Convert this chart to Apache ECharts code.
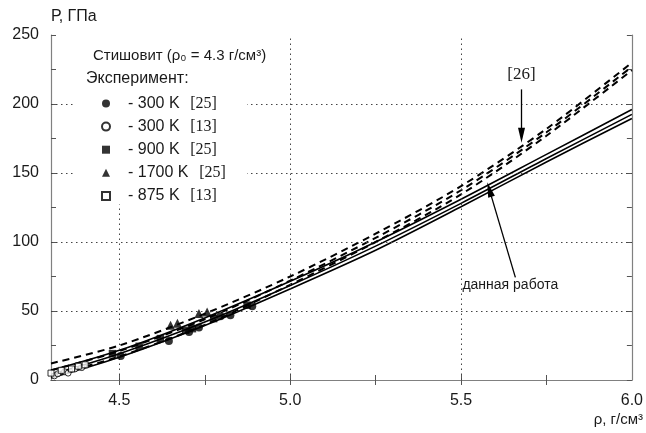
<!DOCTYPE html>
<html><head><meta charset="utf-8">
<script src="https://cdn.jsdelivr.net/npm/echarts@6/dist/echarts.min.js"></script>
<style>html,body{margin:0;padding:0;background:#fff}#c{width:646px;height:433px}</style>
</head><body><div id="c"></div>
<script>
// ---- axis values ----
const xLabelValues = [4.5, 5.0, 5.5, 6.0];
const xTickValues = [4.5, 4.75, 5.0, 5.25, 5.5, 5.75];
const xGridValues = [4.5, 5.0, 5.5];
const yGridValues = [50, 100, 150, 200];
const yLabelStep = 50;

// ---- curves: this work (solid) and ref [26] (dashed) ----
const densities = [4.3, 4.5, 4.75, 5.0, 5.25, 5.5, 5.75, 6.0];
const thisWorkA = [7, 21.5, 45, 71.5, 100, 131, 163.5, 196];
const thisWorkB = [4, 19, 42, 68.5, 97, 128, 160.5, 192.5];
const thisWorkC = [1.5, 16.5, 39.5, 66, 94, 125.5, 158, 189.5];
const ref26A = [12, 25, 48, 75, 106, 140.5, 182, 230];
const ref26B = [7, 21, 44, 72, 103, 137.5, 179.5, 227];
const ref26C = [3, 17, 40, 69, 100, 134.5, 177, 224.5];

// ---- experiment points ----
const exp300K25 = [[4.504,17.4],[4.645,28.2],[4.704,34.8],[4.733,38],[4.796,46.2],[4.825,46.9],[4.889,53.5]];
const exp300K13 = [[4.31,3],[4.32,4.5],[4.34,6],[4.35,5],[4.37,8],[4.39,9]];
const exp900K25 = [[4.48,19.1],[4.558,24.4],[4.62,30],[4.694,36],[4.714,37.2],[4.776,44.5],[4.874,54.2]];
const exp1700K25 = [[4.65,39.7],[4.67,41.2],[4.733,48.2],[4.757,49.2]];
const exp875K13 = [[4.30,5],[4.33,7],[4.36,8],[4.38,10],[4.40,11]];

const legendLabels = {
  exp300K25: ['- 300 K', '[25]'],
  exp300K13: ['- 300 K', '[13]'],
  exp900K25: ['- 900 K', '[25]'],
  exp1700K25: ['- 1700 K', '[25]'],
  exp875K13: ['- 875 K', '[13]']
};

// annotation anchors (data coordinates)
const ann26Text = [5.677, 221.5];
const ann26Arrow = [[5.677, 210.6], [5.677, 177.3]];
const annWorkText = [5.504, 68.6];
const annWorkArrow = [[5.659, 74.4], [5.583, 138]];

const SANS = '"Liberation Sans", Arial, sans-serif';
const SERIF = '"Liberation Serif", "Times New Roman", serif';
const TXT = '#1a1a1a';

function curve(name, vals, dashed) {
  return {
    type: 'line', name, data: densities.map((d, i) => [d, vals[i]]),
    smooth: 0.3, symbol: 'none', silent: true, animation: false, z: 2,
    lineStyle: { color: '#000', width: dashed ? 2 : 1.6, type: dashed ? [7, 5] : 'solid' }
  };
}
function pts(name, data, symbol, size, open) {
  return {
    type: 'scatter', name, data, symbol, symbolSize: size, animation: false, z: 5,
    itemStyle: open ? { color: '#fff', borderColor: '#000', borderWidth: 1 } : { color: '#000' }
  };
}

const s1 = curve('thisWorkA', thisWorkA, false);
s1.markLine = {
  silent: true, symbol: 'none', animation: false, label: { show: false },
  lineStyle: { color: '#444', width: 1, type: [1.5, 3.5] },
  data: [...xGridValues.map(v => ({ xAxis: v })), ...yGridValues.map(v => ({ yAxis: v }))]
};
const d1 = curve('ref26A', ref26A, true);
d1.markLine = {
  silent: true, symbol: ['none', 'triangle'], symbolSize: [7, 15], animation: false,
  label: { show: false }, lineStyle: { color: '#000', width: 1.3, type: 'solid' },
  data: [
    [{ coord: ann26Arrow[0] }, { coord: ann26Arrow[1] }],
    [{ coord: annWorkArrow[0] }, { coord: annWorkArrow[1] }]
  ]
};

const axisLineStyle = { color: '#808080', width: 1.2 };
const tickStyle = { show: true, inside: true, length: 5, lineStyle: { color: '#555', width: 1 } };

const option = {
  backgroundColor: '#fff',
  animation: false,
  grid: { left: 51, right: 13, top: 35, bottom: 53, show: false },
  xAxis: [
    { type: 'value', min: 4.3, max: 6.0, position: 'bottom',
      axisLine: { show: true, lineStyle: axisLineStyle },
      axisTick: Object.assign({ customValues: xTickValues }, tickStyle),
      axisLabel: { customValues: xLabelValues, formatter: v => v.toFixed(1), margin: 13,
        fontFamily: SANS, fontSize: 16, color: TXT },
      splitLine: { show: false } },
    { type: 'value', min: 4.3, max: 6.0, position: 'top',
      axisLine: { show: true, lineStyle: axisLineStyle },
      axisTick: Object.assign({ customValues: xTickValues }, tickStyle),
      axisLabel: { show: false }, splitLine: { show: false } }
  ],
  yAxis: [
    { type: 'value', min: 0, max: 250, interval: 25, position: 'left',
      axisLine: { show: true, lineStyle: axisLineStyle },
      axisTick: tickStyle,
      axisLabel: { formatter: v => (v % yLabelStep === 0 ? String(v) : ''), margin: 12,
        fontFamily: SANS, fontSize: 16, color: TXT },
      splitLine: { show: false } },
    { type: 'value', min: 0, max: 250, interval: 25, position: 'right',
      axisLine: { show: true, lineStyle: axisLineStyle },
      axisTick: tickStyle, axisLabel: { show: false }, splitLine: { show: false } }
  ],
  legend: {
    data: ['exp300K25', 'exp300K13', 'exp900K25', 'exp1700K25', 'exp875K13'],
    orient: 'vertical', left: 96, top: 90.5, itemWidth: 8, itemHeight: 8, itemGap: 7.1,
    selectedMode: false, z: 70,
    formatter: n => '{a|' + legendLabels[n][0] + '}  {b|' + legendLabels[n][1] + '}',
    textStyle: { rich: {
      a: { fontFamily: SANS, fontSize: 16, color: TXT, lineHeight: 18, padding: [0, 0, 0, 13] },
      b: { fontFamily: SERIF, fontSize: 16, color: TXT, lineHeight: 18, padding: [0, 0, 0, 4] }
    } }
  },
  series: [
    s1, curve('thisWorkB', thisWorkB, false), curve('thisWorkC', thisWorkC, false),
    d1, curve('ref26B', ref26B, true), curve('ref26C', ref26C, true),
    pts('exp300K13', exp300K13, 'circle', 6, true),
    pts('exp875K13', exp875K13, 'rect', 6, true),
    pts('exp300K25', exp300K25, 'circle', 8, false),
    pts('exp900K25', exp900K25, 'rect', 7.5, false),
    pts('exp1700K25', exp1700K25, 'triangle', 9, false)
  ]
};

const chart = echarts.init(document.getElementById('c'));
chart.setOption(option);

const p26 = chart.convertToPixel({ gridIndex: 0 }, ann26Text);
const pWork = chart.convertToPixel({ gridIndex: 0 }, annWorkText);
chart.setOption({
  graphic: {
    z: 50,
    elements: [
      { type: 'rect', z: 50, silent: true, shape: { x: 73, y: 36.5, width: 174, height: 168 },
        style: { fill: '#fff' } },
      { type: 'text', z: 60, left: 93, top: 48,
        style: { text: 'Стишовит (ρ₀ = 4.3 г/см³)', font: '15px ' + SANS, fill: TXT } },
      { type: 'text', z: 60, left: 86, top: 71,
        style: { text: 'Эксперимент:', font: '16px ' + SANS, fill: TXT } },
      { type: 'text', z: 60, left: 51, top: 9,
        style: { text: 'Р, ГПа', font: '16px ' + SANS, fill: TXT } },
      { type: 'text', z: 60, right: 3, top: 412,
        style: { text: 'ρ, г/см³', font: '15px ' + SANS, fill: TXT } },
      { type: 'text', z: 60, x: p26[0], y: p26[1],
        style: { text: '[26]', font: '17px ' + SERIF, fill: TXT, align: 'center', verticalAlign: 'middle' } },
      { type: 'text', z: 60, x: pWork[0], y: pWork[1],
        style: { text: 'данная работа', font: '14px ' + SANS, fill: TXT, align: 'left', verticalAlign: 'middle' } }
    ]
  }
});
</script>
</body></html>
